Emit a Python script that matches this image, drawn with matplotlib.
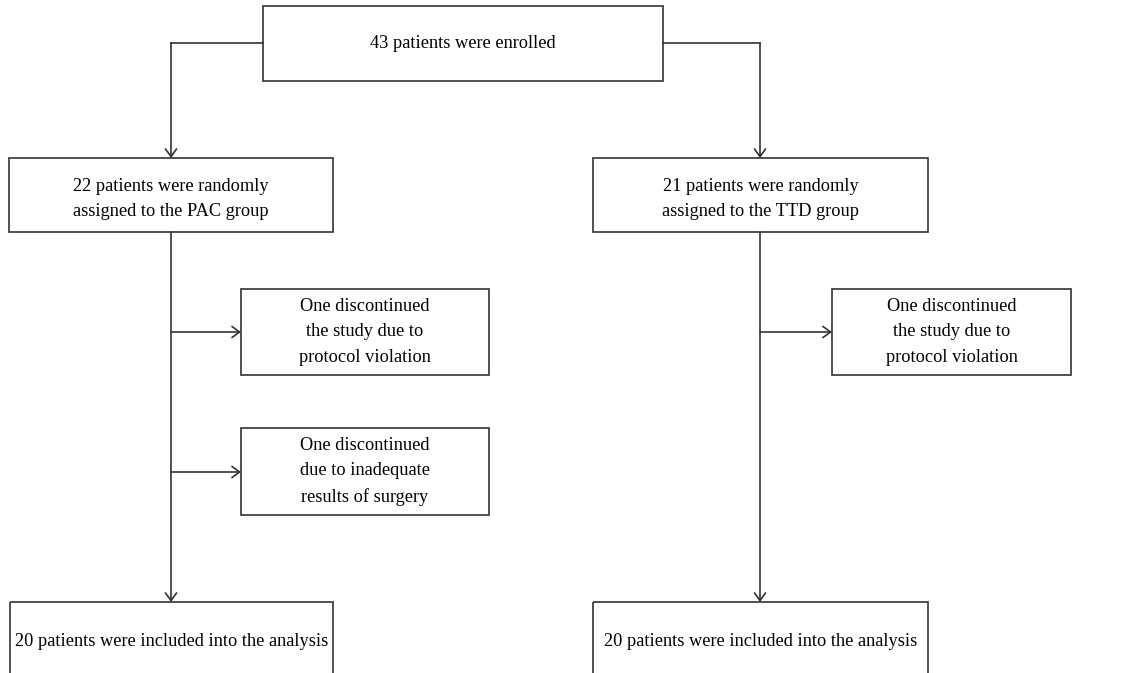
import matplotlib.pyplot as plt
from matplotlib.patches import Rectangle

plt.rcParams['font.family'] = ['Liberation Serif', 'DejaVu Serif']

# box texts
enrolled = "43 patients were enrolled"
groups = ["22 patients were randomly\nassigned to the PAC group",
          "21 patients were randomly\nassigned to the TTD group"]
dropouts_pac = ["One discontinued\nthe study due to\nprotocol violation",
                "One discontinued\ndue to inadequate\nresults of surgery"]
dropouts_ttd = ["One discontinued\nthe study due to\nprotocol violation"]
analysed = ["20 patients were included into the analysis",
            "20 patients were included into the analysis"]

# layout in pixels (x0, y0, x1, y1), y going down
top_box = (263, 6, 663, 81)
group_boxes = [(9, 158, 333, 232), (593, 158, 928, 232)]
branch_x = [171, 760]
drop_boxes = [[(241, 289, 489, 375), (241, 428, 489, 515)],
              [(832, 289, 1071, 375)]]
drop_arrow_y = [[332, 472], [332]]
final_boxes = [(10, 602, 333, 690), (593, 602, 928, 690)]

col = '#333333'
lw = 1.2
fs = 13.2

fig = plt.figure(figsize=(11.39, 6.73), dpi=100)
ax = fig.add_axes([0, 0, 1, 1])
ax.set_xlim(0, 1139)
ax.set_ylim(673, 0)
ax.axis('off')


def box(b, text, ty=None):
    x0, y0, x1, y1 = b
    ax.add_patch(Rectangle((x0, y0), x1 - x0, y1 - y0, fill=False,
                           edgecolor=col, linewidth=lw))
    if ty is None:
        ty = (y0 + y1) / 2
    ax.text((x0 + x1) / 2, ty, text, ha='center', va='center',
            fontsize=fs, color='black', linespacing=1.62)


def arrow(x0, y0, x1, y1):
    ax.annotate('', xy=(x1, y1), xytext=(x0, y0),
                arrowprops=dict(arrowstyle='->,head_length=0.55,head_width=0.4',
                                color=col, lw=lw, shrinkA=0, shrinkB=0))


box(top_box, enrolled, ty=43)
for b, t in zip(group_boxes, groups):
    box(b, t, ty=199)
for i in range(2):
    for b, t in zip(drop_boxes[i], [dropouts_pac, dropouts_ttd][i]):
        box(b, t)
for b, t in zip(final_boxes, analysed):
    box(b, t, ty=642)

# top box to groups
for side, bx in zip([top_box[0], top_box[2]], branch_x):
    ax.plot([side, bx], [43, 43], color=col, lw=lw)
    arrow(bx, 43, bx, 158)

# groups down to analysis, with side arrows
for i, bx in enumerate(branch_x):
    arrow(bx, 232, bx, 602)
    for ay, db in zip(drop_arrow_y[i], drop_boxes[i]):
        arrow(bx, ay, db[0], ay)

fig.savefig('out.png', dpi=100)
